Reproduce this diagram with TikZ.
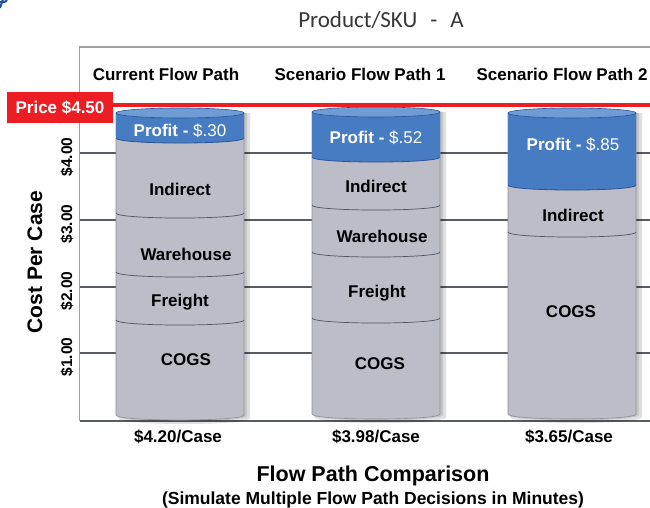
\documentclass[tikz,border=0pt]{standalone}
\usepackage{fontspec}
\setmainfont{Liberation Sans}
\newfontfamily\titlefont{Carlito}
\definecolor{gridc}{RGB}{88,93,100}
\definecolor{framec}{RGB}{160,160,165}
\definecolor{bodyc}{RGB}{188,189,199}
\definecolor{bodyedge}{RGB}{140,142,155}
\definecolor{divc}{RGB}{80,84,100}
\definecolor{profitc}{RGB}{72,124,194}
\definecolor{profitedgec}{RGB}{40,85,150}
\definecolor{topc}{RGB}{112,156,214}
\definecolor{pricered}{RGB}{236,30,36}
\definecolor{titlec}{RGB}{55,55,55}
\definecolor{logoblue}{RGB}{30,80,160}
\tikzset{
  gridline/.style={draw=gridc,line width=2pt},
  framel/.style={draw=framec,line width=1.2pt},
  cyllabel/.style={font=\fontsize{17}{17}\selectfont\bfseries,text=black,inner sep=0pt},
  plab/.style={font=\fontsize{17}{17}\selectfont,text=white,inner sep=0pt},
  header/.style={font=\fontsize{17}{17}\selectfont\bfseries,text=black,inner sep=0pt},
  ticklab/.style={font=\fontsize{15.5}{15.5}\selectfont\bfseries,rotate=90,inner sep=0pt},
  caselab/.style={font=\fontsize{17}{17}\selectfont\bfseries,inner sep=0pt},
}
\newcommand{\drawcyl}[6]{%
  \fill[black,opacity=0.12] ({#1+2},{#3}) -- ({#1+2},{#5+3}) .. controls ({#1+2},{#5+11}) and ({#2+6},{#5+11}) .. ({#2+6},{#5+3}) -- ({#2+6},{#3}) -- cycle;
  \fill[black,opacity=0.12] ({#1+1},{#3}) -- ({#1+1},{#5+1}) .. controls ({#1+1},{#5+8}) and ({#2+3},{#5+8}) .. ({#2+3},{#5+1}) -- ({#2+3},{#3}) -- cycle;
  \filldraw[fill=bodyc,draw=bodyedge,line width=0.6pt] (#1,#3) -- (#1,#5) .. controls (#1,{#5+6.7}) and (#2,{#5+6.7}) .. (#2,#5) -- (#2,#3) -- cycle;
  \foreach \b in {#6} {\draw[divc,line width=0.7pt] (#1,\b) .. controls (#1,{\b+6.7}) and (#2,{\b+6.7}) .. (#2,\b);}
  \fill[profitc] (#1,#3) -- (#1,#4) .. controls (#1,{#4+6.7}) and (#2,{#4+6.7}) .. (#2,#4) -- (#2,#3) -- cycle;
  \draw[profitedgec,line width=0.8pt] (#1,#4) .. controls (#1,{#4+6.7}) and (#2,{#4+6.7}) .. (#2,#4);
  \filldraw[fill=topc,draw=profitedgec,line width=0.6pt] ({(#1+#2)/2},#3) ellipse [x radius={(#2-#1)/2}, y radius=5];
}
\begin{document}
\begin{tikzpicture}[x=1pt,y=-1pt]
\useasboundingbox (0,0) rectangle (650,508);
% logo fragment
\draw[logoblue,line width=2pt] (0,2) -- (4,2) arc[start angle=90,end angle=-90,radius=3] -- (0,8);
% title
\node[font=\titlefont\fontsize{23}{23}\selectfont,text=titlec,inner sep=0pt,anchor=base] (title) at (381,28) {Product/SKU\hspace{13pt}-\hspace{13pt}A};
% frame
\draw[framel] (650,47) -- (79.5,47) -- (79.5,421);
% gridlines
\foreach \y/\n in {153/g4,220/g3,287/g2,353/g1} {\draw[gridline] (79.5,\y) -- (650,\y) coordinate (\n);}
\draw[draw=gridc,line width=2pt] (79.5,421) -- (650,421);
% headers
\node[header] (h1) at (166,74) {Current Flow Path};
\node[header] (h2) at (360,74) {Scenario Flow Path 1};
\node[header] (h3) at (562,74) {Scenario Flow Path 2};
% cylinders
\drawcyl{116}{244}{113}{138}{415}{213,272,320}
\drawcyl{312}{440}{112}{157}{414}{205,252,318}
\drawcyl{508}{636}{113}{185}{414}{232}
% price line
\draw[pricered,line width=4pt] (112,105.3) -- (650,105.3);
\node[fill=pricered,text=white,font=\fontsize{17}{17}\selectfont\bfseries,minimum width=106pt,minimum height=31pt,inner sep=0pt] (price) at (60,107.5) {Price \$4.50};
% cylinder labels
\node[plab] (p1) at (180,131) {{\bfseries Profit -} \$.30};
\node[cyllabel] (i1) at (180,189) {Indirect};
\node[cyllabel] (w1) at (186,254) {Warehouse};
\node[cyllabel] (f1) at (180,302) {Freight};
\node[cyllabel] (c1) at (186,360) {COGS};
\node[plab] (p2) at (376,138) {{\bfseries Profit -} \$.52};
\node[cyllabel] (i2) at (376,186) {Indirect};
\node[cyllabel] (w2) at (382,236) {Warehouse};
\node[cyllabel] (f2) at (377,293) {Freight};
\node[cyllabel] (c2) at (380,364) {COGS};
\node[plab] (p3) at (573,145) {{\bfseries Profit -} \$.85};
\node[cyllabel] (i3) at (573,215) {Indirect};
\node[cyllabel] (c3) at (571,312) {COGS};
% axis labels
\node[ticklab] (t4) at (67,157) {\$4.00};
\node[ticklab] (t3) at (67,224) {\$3.00};
\node[ticklab] (t2) at (67,291) {\$2.00};
\node[ticklab] (t1) at (67,357) {\$1.00};
\node[font=\fontsize{21}{21}\selectfont\bfseries,rotate=90,inner sep=0pt] (ylab) at (35,262) {Cost Per Case};
% bottom labels
\node[caselab] (b1) at (178,437) {\$4.20/Case};
\node[caselab] (b2) at (376,437) {\$3.98/Case};
\node[caselab] (b3) at (569,437) {\$3.65/Case};
\node[font=\fontsize{21.5}{21.5}\selectfont\bfseries,inner sep=0pt] (xlab) at (373,476) {Flow Path Comparison};
\node[font=\fontsize{17.5}{17.5}\selectfont\bfseries,inner sep=0pt] (sub) at (373,500) {(Simulate Multiple Flow Path Decisions in Minutes)};
\end{tikzpicture}
\end{document}
